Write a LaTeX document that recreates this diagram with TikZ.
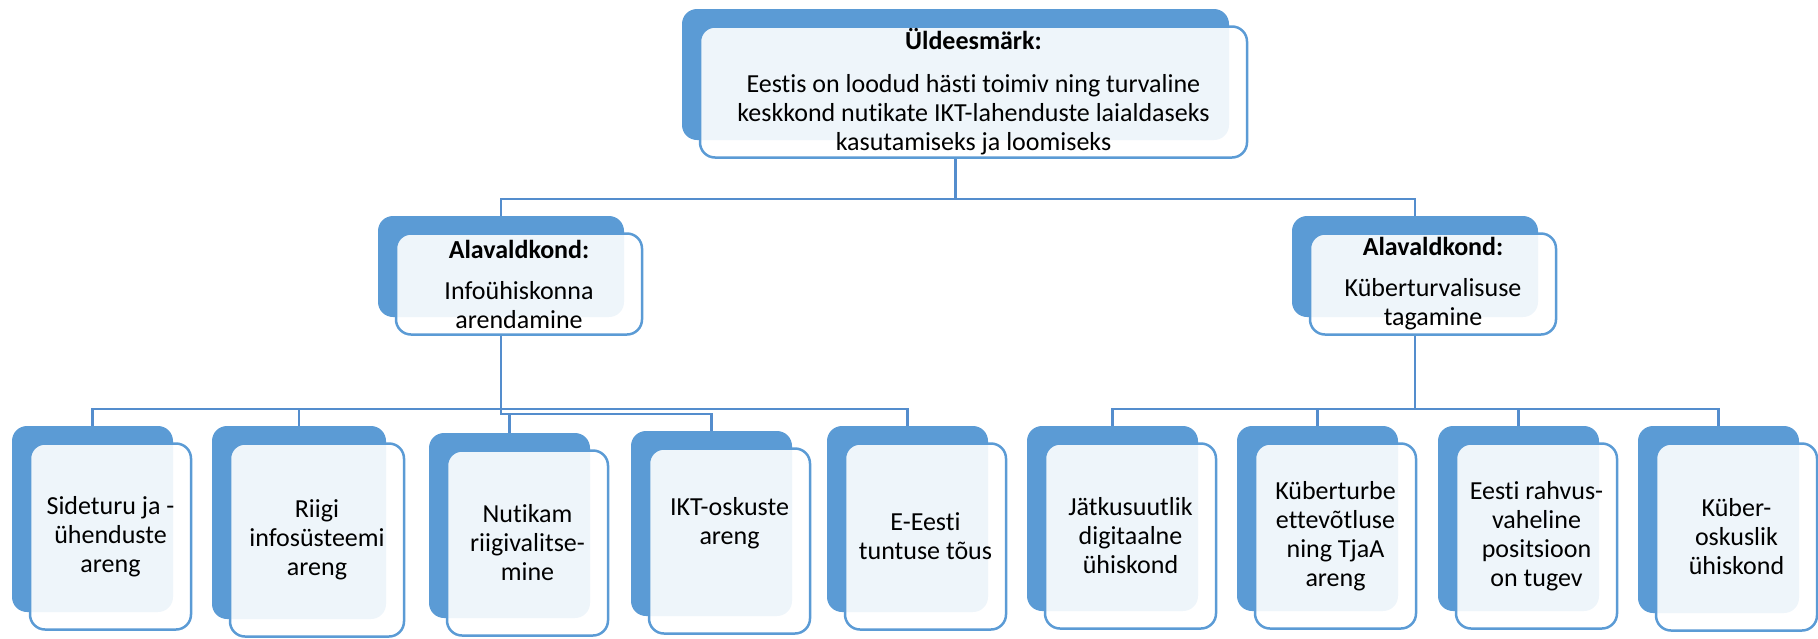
\documentclass[tikz,border=0pt]{standalone}
\usepackage{fontspec}
\setmainfont{Carlito}[Ligatures=NoCommon]
\usetikzlibrary{positioning}
\definecolor{accent}{RGB}{91,155,213}
\definecolor{linec}{RGB}{84,141,205}
\pgfdeclarelayer{bg}
\pgfsetlayers{bg,main}
\newcommand\boxpair[6]{%
  \node[backbox, minimum width=#4pt, minimum height=#5pt] (#1B) at (#2,#3) {};
  \node[frontbox, minimum width=#4pt, minimum height=#5pt, xshift=18pt, yshift=-17.5pt] (#1) at (#1B.center) {#6};
}
\begin{document}
\begin{tikzpicture}[x=1pt,y=-1pt,
  backbox/.style={rectangle, rounded corners=15pt, fill=accent, draw=none, inner sep=0pt},
  frontbox/.style={rectangle, rounded corners=15pt, fill=white, fill opacity=0.9, text opacity=1,
    draw=accent, line width=2.5pt, inner sep=0pt, align=center, font=\fontsize{26}{29}\selectfont},
  conn/.style={draw=linec, line width=2.5pt},
]
\useasboundingbox (0,0) rectangle (1818,638);
\coordinate (barT) at (0,199);
\coordinate (barA) at (0,409);
\coordinate (barB) at (0,414);

\boxpair{top}{955.5}{74.5}{547}{131}{\fontsize{26}{28}\selectfont\textbf{Üldeesmärk:}\\[14pt]Eestis on loodud hästi toimiv ning turvaline\\keskkond nutikate IKT-lahenduste laialdaseks\\kasutamiseks ja loomiseks}
\boxpair{ml}{501}{266.5}{246}{101}{\textbf{Alavaldkond:}\\[12pt]Infoühiskonna\\arendamine}
\boxpair{mr}{1415}{266.5}{246}{101}{\textbf{Alavaldkond:}\\[12pt]Küberturvalisuse\\tagamine}

\boxpair{b1}{92.5}{519}{161}{186}{Sideturu ja -\\ühenduste\\areng}
\boxpair{b2}{299}{522.5}{174}{193}{Riigi\\infosüsteemi\\areng}
\boxpair{b3}{509.5}{525.5}{161}{185}{Nutikam\\riigivalitse-\\mine}
\boxpair{b4}{711.5}{523.5}{161}{185}{IKT-oskuste\\areng\\[11pt]\mbox{}}
\boxpair{b5}{907.5}{519}{161}{186}{E-Eesti\\tuntuse tõus}
\boxpair{b6}{1112.5}{518.5}{171}{185}{Jätkusuutlik\\digitaalne\\ühiskond}
\boxpair{b7}{1317.5}{518.5}{161}{185}{Küberturbe\\ettevõtluse\\ning TjaA\\areng}
\boxpair{b8}{1518.5}{518.5}{161}{185}{Eesti rahvus-\\vaheline\\positsioon\\on tugev}
\boxpair{b9}{1718.5}{519.5}{161}{187}{Küber-\\oskuslik\\ühiskond}

\begin{pgfonlayer}{bg}
\draw[conn] (topB.south |- top.south) -- (topB.south |- barT) -| (mlB.north);
\draw[conn] (topB.south |- top.south) -- (topB.south |- barT) -| (mrB.north);
\draw[conn] (mlB.south |- ml.south) -- (mlB.south |- barA) -| (b1B.north);
\draw[conn] (mlB.south |- barA) -| (b2B.north);
\draw[conn] (mlB.south |- barA) -| (b5B.north);
\draw[conn] (mlB.south |- barA) -- (mlB.south |- barB) -| (b3B.north);
\draw[conn] (mlB.south |- barB) -| (b4B.north);
\draw[conn] (mrB.south |- mr.south) -- (mrB.south |- barA) -| (b6B.north);
\draw[conn] (mrB.south |- barA) -| (b7B.north);
\draw[conn] (mrB.south |- barA) -| (b8B.north);
\draw[conn] (mrB.south |- barA) -| (b9B.north);
\end{pgfonlayer}
\end{tikzpicture}
\end{document}
